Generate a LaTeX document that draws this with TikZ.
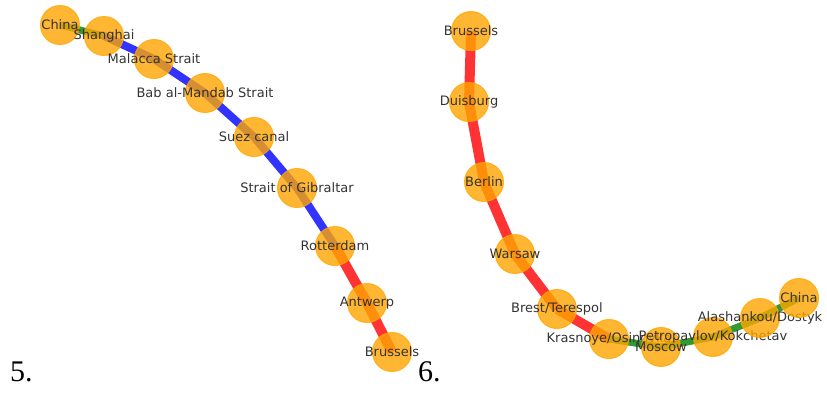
\documentclass[tikz,border=0pt]{standalone}
\usepackage{fontspec}
\setmainfont{Liberation Serif}
\newfontfamily\lblfont{DejaVu Sans}
\pgfdeclarelayer{bg}
\pgfsetlayers{bg,main}
\definecolor{nodeor}{RGB}{255,165,0}
\definecolor{edgered}{RGB}{255,0,0}
\definecolor{edgeblue}{RGB}{0,0,255}
\definecolor{edgegreen}{RGB}{0,128,0}
\definecolor{txt}{RGB}{51,51,51}
\tikzset{
  stop/.style={circle, minimum size=39pt, inner sep=0pt, fill=nodeor, fill opacity=0.8, draw=nodeor, draw opacity=0.8, line width=1pt},
  lbl/.style={font=\lblfont\fontsize{13}{13}\selectfont, text=txt, inner sep=0pt, text opacity=1},
  redline/.style={draw=edgered, draw opacity=0.8, line width=10pt},
  blueline/.style={draw=edgeblue, draw opacity=0.8, line width=8pt},
  greenline/.style={draw=edgegreen, draw opacity=0.8, line width=7pt},
  numlbl/.style={font=\fontsize{30}{30}\selectfont, anchor=base west, inner sep=0pt}
}
\begin{document}
\begin{tikzpicture}[x=1pt,y=-1pt]
\useasboundingbox (0,0) rectangle (827,394);
% graph 5
\node[stop, label={[lbl]center:China}] (a1) at (60,25) {};
\node[stop, label={[lbl]center:Shanghai}] (a2) at (104,36) {};
\node[stop, label={[lbl]center:Malacca Strait}] (a3) at (154,59) {};
\node[stop, label={[lbl]center:Bab al-Mandab Strait}] (a4) at (205,93) {};
\node[stop, label={[lbl]center:Suez canal}] (a5) at (254,137) {};
\node[stop, label={[lbl]center:Strait of Gibraltar}] (a6) at (297,188) {};
\node[stop, label={[lbl]center:Rotterdam}] (a7) at (335,246) {};
\node[stop, label={[lbl]center:Antwerp}] (a8) at (367,303) {};
\node[stop, label={[lbl]center:Brussels}] (a9) at (392,352) {};
% graph 6
\node[stop, label={[lbl]center:Brussels}] (b1) at (471,31) {};
\node[stop, label={[lbl]center:Duisburg}] (b2) at (469,102) {};
\node[stop, label={[lbl]center:Berlin}] (b3) at (484,182) {};
\node[stop, label={[lbl]center:Warsaw}] (b4) at (515,254) {};
\node[stop, label={[lbl]center:Brest/Terespol}] (b5) at (557,309) {};
\node[stop, label={[lbl]center:Krasnoye/Osinovka}] (b6) at (609,339) {};
\node[stop, label={[lbl]center:Moscow}] (b7) at (661,347) {};
\node[stop, label={[lbl]center:Petropavlov/Kokchetav}] (b8) at (713,337) {};
\node[stop, label={[lbl]center:Alashankou/Dostyk}] (b9) at (760,318) {};
\node[stop, label={[lbl]center:China}] (b10) at (799,298) {};
\begin{pgfonlayer}{bg}
\draw[greenline] (a1.center) -- (a2.center);
\draw[blueline] (a2.center) -- (a3.center);
\draw[blueline] (a3.center) -- (a4.center);
\draw[blueline] (a4.center) -- (a5.center);
\draw[blueline] (a5.center) -- (a6.center);
\draw[blueline] (a6.center) -- (a7.center);
\draw[redline] (a7.center) -- (a8.center);
\draw[redline] (a8.center) -- (a9.center);
\draw[redline] (b1.center) -- (b2.center);
\draw[redline] (b2.center) -- (b3.center);
\draw[redline] (b3.center) -- (b4.center);
\draw[redline] (b4.center) -- (b5.center);
\draw[redline] (b5.center) -- (b6.center);
\draw[greenline] (b6.center) -- (b7.center);
\draw[greenline] (b7.center) -- (b8.center);
\draw[greenline] (b8.center) -- (b9.center);
\draw[greenline] (b9.center) -- (b10.center);
\end{pgfonlayer}
\node[numlbl] (n5) at (10,381) {5.};
\node[numlbl] (n6) at (418,381) {6.};
\end{tikzpicture}
\end{document}
